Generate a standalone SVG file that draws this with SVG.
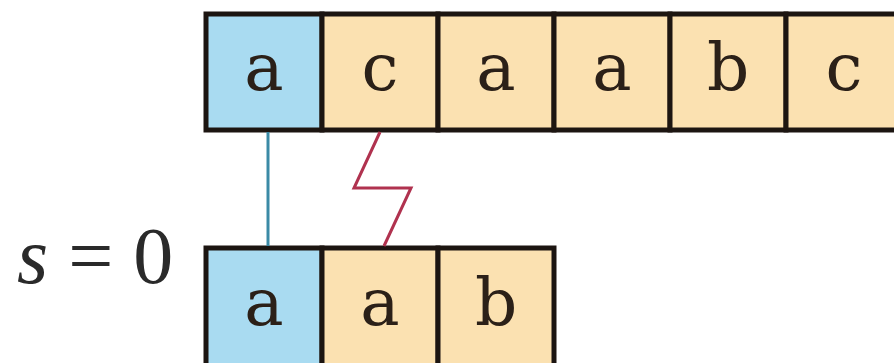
<svg xmlns="http://www.w3.org/2000/svg" width="894" height="363" viewBox="0 0 894 363">
  <style>
    .cell { stroke: #1c1511; stroke-width: 5; }
    .hit { fill: #a9dbf1; }
    .plain { fill: #fbe1b1; }
    .ch { font-family: "DejaVu Serif", "Liberation Serif", serif; font-size: 66px; fill: #2b2018; text-anchor: middle; }
    .label { font-family: "Liberation Serif", "Times New Roman", serif; font-size: 80px; fill: #2a2a2a; }
    .match { stroke: #3b8aa6; stroke-width: 3; fill: none; }
    .miss { stroke: #b0324f; stroke-width: 3; fill: none; stroke-linejoin: miter; }
  </style>

  <rect width="894" height="363" fill="#ffffff"/>

  <!-- text row -->
  <g id="t0"><rect class="cell hit" x="206" y="14" width="116" height="116"/><text class="ch" x="264" y="90">a</text></g>
  <g id="t1"><rect class="cell plain" x="322" y="14" width="116" height="116"/><text class="ch" x="380" y="90">c</text></g>
  <g id="t2"><rect class="cell plain" x="438" y="14" width="116" height="116"/><text class="ch" x="496" y="90">a</text></g>
  <g id="t3"><rect class="cell plain" x="554" y="14" width="116" height="116"/><text class="ch" x="612" y="90">a</text></g>
  <g id="t4"><rect class="cell plain" x="670" y="14" width="116" height="116"/><text class="ch" x="728" y="90">b</text></g>
  <g id="t5"><rect class="cell plain" x="786" y="14" width="116" height="116"/><text class="ch" x="844" y="90">c</text></g>

  <!-- pattern row at shift 0 -->
  <g id="shift-label"><text class="label" x="17" y="283"><tspan font-style="italic">s</tspan> = 0</text></g>
  <g id="p0"><rect class="cell hit" x="206" y="248" width="116" height="130"/><text class="ch" x="264" y="325">a</text></g>
  <g id="p1"><rect class="cell plain" x="322" y="248" width="116" height="130"/><text class="ch" x="380" y="325">a</text></g>
  <g id="p2"><rect class="cell plain" x="438" y="248" width="116" height="130"/><text class="ch" x="496" y="325">b</text></g>

  <!-- comparisons -->
  <g id="connectors">
    <line class="match" x1="268" y1="132" x2="268" y2="246"/>
    <polyline class="miss" points="380,132 354,188 411,188 384,246"/>
  </g>
</svg>
